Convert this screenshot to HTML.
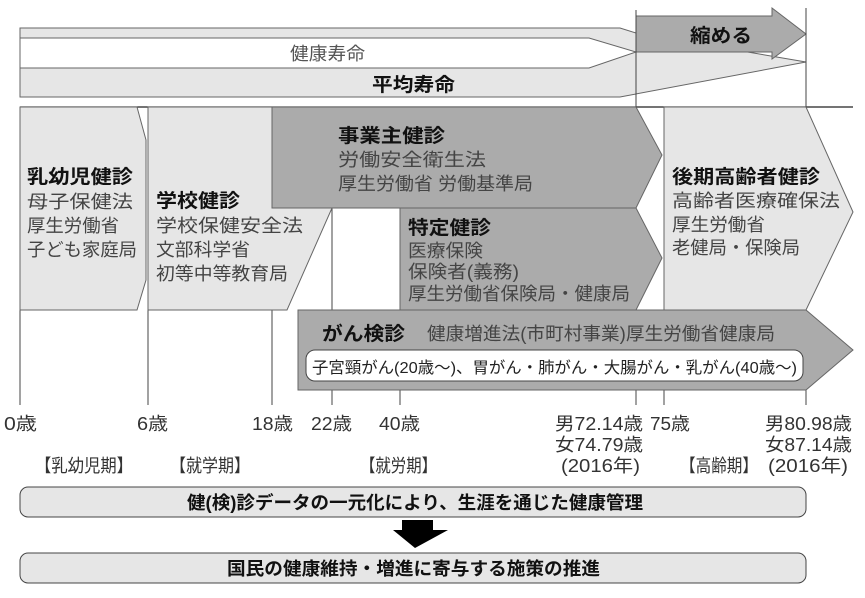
<!DOCTYPE html>
<html><head><meta charset="utf-8"><style>
html,body{margin:0;padding:0;background:#fff}
svg{display:block}
text{font-family:"Liberation Sans","Noto Sans CJK JP",sans-serif;fill:#333}
.t{font-weight:bold;font-size:19px;fill:#111}
.b{font-size:18px;fill:#444}
.a{font-size:18px;fill:#333}
</style></head><body>
<svg width="865" height="598" viewBox="0 0 865 598" xmlns="http://www.w3.org/2000/svg">
<polygon points="20,28 620,28 636,33 806,62 620,97 20,97" fill="#e6e6e6" stroke="#666" stroke-width="1"/>
<polygon points="20,38 589,38 636,52 589,68 20,68" fill="#fff" stroke="#666" stroke-width="1"/>
<polygon points="636,16 772,16 772,8 806,34 772,59 772,52 636,52" fill="#ababab" stroke="#666" stroke-width="1"/>
<text x="290" y="60" class="a" textLength="75" lengthAdjust="spacingAndGlyphs" style="fill:#555">健康寿命</text>
<text x="372" y="91" class="t" textLength="83" lengthAdjust="spacingAndGlyphs">平均寿命</text>
<text x="690" y="42" class="t" textLength="62" lengthAdjust="spacingAndGlyphs">縮める</text>
<line x1="636" y1="10" x2="636" y2="405" stroke="#444" stroke-width="1"/>
<line x1="806" y1="8" x2="806" y2="405" stroke="#444" stroke-width="1"/>
<line x1="20" y1="107" x2="853" y2="107" stroke="#222" stroke-width="1.2"/>
<line x1="20" y1="310" x2="20" y2="405" stroke="#444"/>
<line x1="148" y1="310" x2="148" y2="405" stroke="#444"/>
<line x1="272" y1="310" x2="272" y2="405" stroke="#444"/>
<line x1="332" y1="208" x2="332" y2="405" stroke="#444"/>
<line x1="400" y1="310" x2="400" y2="405" stroke="#444"/>
<line x1="664" y1="310" x2="664" y2="405" stroke="#444"/>
<polygon points="20,107 137,107 146,140 146,280 137,310 20,310" fill="#e6e6e6" stroke="#666"/>
<polygon points="148,107 272,107 272,208 332,208 287,310 148,310" fill="#e6e6e6" stroke="#666"/>
<polygon points="272,107 636,107 662,155 636,208 272,208" fill="#ababab" stroke="#666"/>
<polygon points="400,208 636,208 662,258 636,310 400,310" fill="#ababab" stroke="#666"/>
<polygon points="664,107 806,107 853,212 806,310 664,310" fill="#e6e6e6" stroke="#666"/>
<polygon points="298,310 806,310 853,350 806,390 298,390" fill="#ababab" stroke="#666"/>
<rect x="306" y="350" width="497" height="31" rx="9" fill="#fff" stroke="#444"/>
<text x="27" y="183" class="t" textLength="106" lengthAdjust="spacingAndGlyphs">乳幼児健診</text>
<text x="27" y="208" class="b" textLength="106" lengthAdjust="spacingAndGlyphs">母子保健法</text>
<text x="27" y="232" class="b" textLength="92" lengthAdjust="spacingAndGlyphs">厚生労働省</text>
<text x="27" y="256" class="b" textLength="110" lengthAdjust="spacingAndGlyphs">子ども家庭局</text>
<text x="156" y="207" class="t" textLength="84" lengthAdjust="spacingAndGlyphs">学校健診</text>
<text x="156" y="232" class="b" textLength="147" lengthAdjust="spacingAndGlyphs">学校保健安全法</text>
<text x="156" y="256" class="b" textLength="94" lengthAdjust="spacingAndGlyphs">文部科学省</text>
<text x="156" y="280" class="b" textLength="132" lengthAdjust="spacingAndGlyphs">初等中等教育局</text>
<text x="338" y="142" class="t" textLength="107" lengthAdjust="spacingAndGlyphs">事業主健診</text>
<text x="338" y="166" class="b" textLength="148" lengthAdjust="spacingAndGlyphs">労働安全衛生法</text>
<text x="338" y="190" class="b" textLength="195" lengthAdjust="spacingAndGlyphs">厚生労働省 労働基準局</text>
<text x="408" y="234" class="t" textLength="83" lengthAdjust="spacingAndGlyphs">特定健診</text>
<text x="408" y="257" class="b" textLength="75" lengthAdjust="spacingAndGlyphs">医療保険</text>
<text x="408" y="278" class="b" textLength="111" lengthAdjust="spacingAndGlyphs">保険者(義務)</text>
<text x="408" y="300" class="b" textLength="222" lengthAdjust="spacingAndGlyphs">厚生労働省保険局・健康局</text>
<text x="672" y="183" class="t" textLength="148" lengthAdjust="spacingAndGlyphs">後期高齢者健診</text>
<text x="672" y="207" class="b" textLength="168" lengthAdjust="spacingAndGlyphs">高齢者医療確保法</text>
<text x="672" y="231" class="b" textLength="93" lengthAdjust="spacingAndGlyphs">厚生労働省</text>
<text x="672" y="254" class="b" textLength="128" lengthAdjust="spacingAndGlyphs">老健局・保険局</text>
<text x="322" y="340" class="t" textLength="83" lengthAdjust="spacingAndGlyphs">がん検診</text>
<text x="427" y="340" class="b" textLength="348" lengthAdjust="spacingAndGlyphs">健康増進法(市町村事業)厚生労働省健康局</text>
<text x="312" y="373" style="font-size:16px;fill:#222" textLength="485" lengthAdjust="spacingAndGlyphs">子宮頸がん(20歳～)、胃がん・肺がん・大腸がん・乳がん(40歳～)</text>
<text x="4" y="430" class="a" textLength="33" lengthAdjust="spacingAndGlyphs">0歳</text>
<text x="137" y="430" class="a" textLength="31" lengthAdjust="spacingAndGlyphs">6歳</text>
<text x="252" y="430" class="a" textLength="41" lengthAdjust="spacingAndGlyphs">18歳</text>
<text x="311" y="430" class="a" textLength="41" lengthAdjust="spacingAndGlyphs">22歳</text>
<text x="379" y="430" class="a" textLength="41" lengthAdjust="spacingAndGlyphs">40歳</text>
<text x="555" y="430" class="a" textLength="88" lengthAdjust="spacingAndGlyphs">男72.14歳</text>
<text x="555" y="451" class="a" textLength="88" lengthAdjust="spacingAndGlyphs">女74.79歳</text>
<text x="561" y="472" class="a" textLength="79" lengthAdjust="spacingAndGlyphs">(2016年)</text>
<text x="650" y="430" class="a" textLength="40" lengthAdjust="spacingAndGlyphs">75歳</text>
<text x="765" y="430" class="a" textLength="87" lengthAdjust="spacingAndGlyphs">男80.98歳</text>
<text x="765" y="451" class="a" textLength="87" lengthAdjust="spacingAndGlyphs">女87.14歳</text>
<text x="768" y="472" class="a" textLength="80" lengthAdjust="spacingAndGlyphs">(2016年)</text>
<text x="35" y="472" class="a" textLength="98" lengthAdjust="spacingAndGlyphs">【乳幼児期】</text>
<text x="170" y="472" class="a" textLength="80" lengthAdjust="spacingAndGlyphs">【就学期】</text>
<text x="360" y="472" class="a" textLength="77" lengthAdjust="spacingAndGlyphs">【就労期】</text>
<text x="680" y="472" class="a" textLength="78" lengthAdjust="spacingAndGlyphs">【高齢期】</text>
<rect x="20" y="487" width="786" height="30" rx="8" fill="#e6e6e6" stroke="#444"/>
<text x="187" y="509" class="t" textLength="456" lengthAdjust="spacingAndGlyphs" style="font-size:18px">健(検)診データの一元化により、生涯を通じた健康管理</text>
<polygon points="402,520 433,520 433,530 448,530 415,548 393,530 402,530" fill="#000"/>
<rect x="20" y="553" width="786" height="30" rx="8" fill="#e6e6e6" stroke="#444"/>
<text x="227" y="575" class="t" textLength="373" lengthAdjust="spacingAndGlyphs" style="font-size:18px">国民の健康維持・増進に寄与する施策の推進</text>
</svg>
</body></html>
